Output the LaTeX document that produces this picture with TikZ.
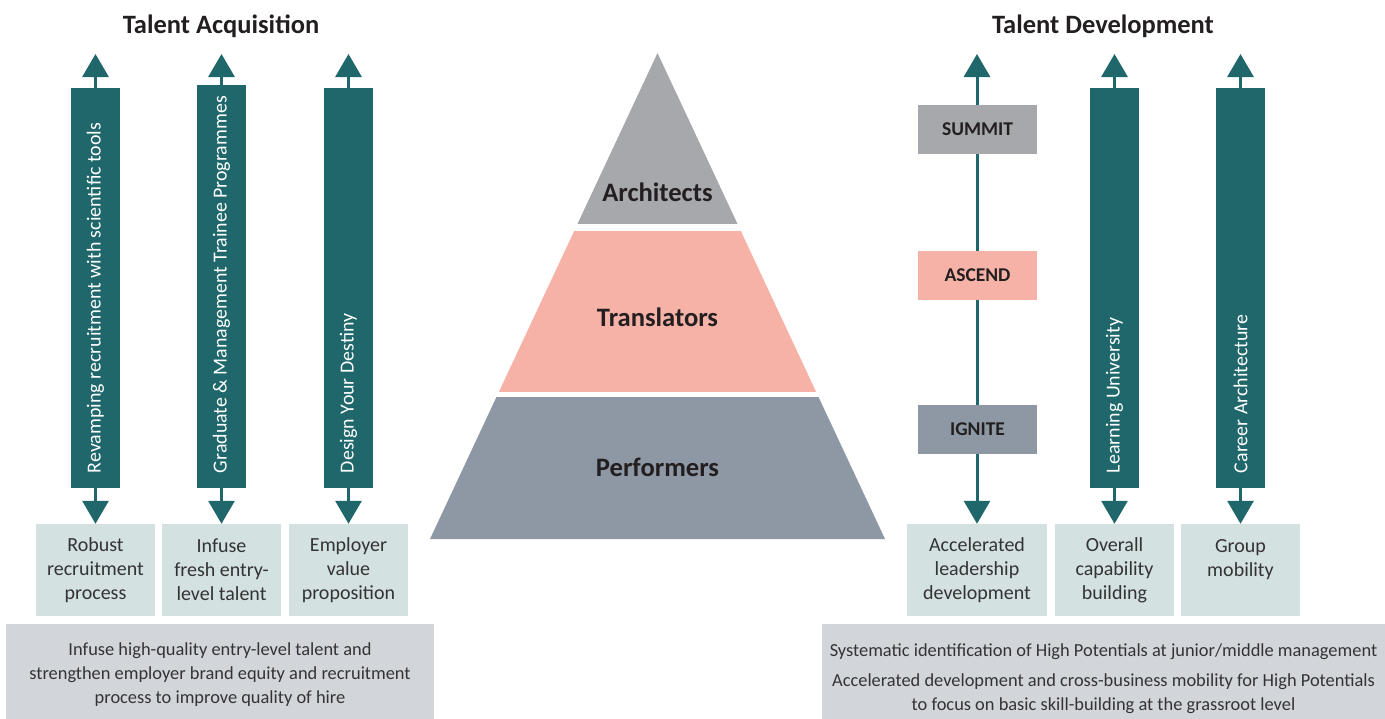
\documentclass[tikz,border=0pt]{standalone}
\usepackage{fontspec}
\setmainfont{Carlito}
\usetikzlibrary{positioning,arrows.meta,calc}
\definecolor{ink}{HTML}{231F20}
\definecolor{body}{HTML}{333335}
\definecolor{teal}{HTML}{1F676B}
\definecolor{pale}{HTML}{D4E1E1}
\definecolor{note}{HTML}{D2D6DA}
\definecolor{stone}{HTML}{A7A8AB}
\definecolor{blush}{HTML}{F7B2A8}
\definecolor{slate}{HTML}{8D98A4}

\tikzset{
  heading/.style={font=\fontsize{26.5}{30}\selectfont\bfseries,text=ink},
  bar/.style={fill=teal,minimum width=49pt,inner sep=0pt},
  bartext/.style={rotate=90,anchor=west,inner sep=0pt,text=white,font=\fontsize{19.9}{22}\selectfont},
  outbox/.style={fill=pale,minimum width=119pt,minimum height=92pt,inner sep=0pt,align=center,text=body,font=\fontsize{20}{24}\selectfont},
  notebox/.style={fill=note,anchor=north,inner sep=0pt,align=center,text=body,font=\fontsize{18.4}{24}\selectfont},
  flow/.style={draw=teal,line width=3pt,-{Triangle[width=26pt,length=23pt]}},
  stepbox/.style={minimum width=119pt,minimum height=49pt,inner sep=0pt,text=ink,font=\fontsize{19.5}{22}\selectfont\bfseries},
  tier/.style={text=ink,font=\fontsize{26.6}{30}\selectfont\bfseries},
}

\begin{document}
\begin{tikzpicture}[x=1pt,y=-1pt]
  \useasboundingbox (0,0) rectangle (1385,718);

  % headings
  \node[heading] (headL) at (221,26) {Talent Acquisition};
  \node[heading] (headR) at (1103,26) {Talent Development};

  % acquisition columns
  \node[bar,minimum height=400pt] (bar1) at (95.5,288) {};
  \node[bar,minimum height=403pt] (bar2) at (221.5,286.5) {};
  \node[bar,minimum height=400pt] (bar3) at (348.5,288) {};
  \node[bartext] (lab1) at ($(bar1.south)+(0,-15)$) {Revamping recruitment with scientific tools};
  \node[bartext] (lab2) at ($(bar2.south)+(0,-15)$) {Graduate \& Management Trainee Programmes};
  \node[bartext] (lab3) at ($(bar3.south)+(0,-15)$) {Design Your Destiny};

  \node[outbox] (out1) at (95.5,570) {Robust\\recruitment\\process};
  \node[outbox] (out2) at (221.5,570) {Infuse\\fresh entry-\\level talent};
  \node[outbox] (out3) at (348.5,570) {Employer\\value\\proposition};

  \coordinate (top1) at (95.5,54);
  \coordinate (top2) at (221.5,54);
  \coordinate (top3) at (348.5,54);
  \foreach \i in {1,2,3} {
    \draw[flow] (bar\i.north) -- (top\i);
    \draw[flow] (bar\i.south) -- (out\i.north);
  }

  % runs past the lower edge of the page
  \node[notebox,minimum width=428pt,minimum height=100pt] (noteL) at (220,624)
    {Infuse high-quality entry-level talent and\\strengthen employer brand equity and recruitment\\process to improve quality of hire};

  % pyramid
  \coordinate (apex) at (657.5,53);
  \coordinate (baseL) at (430,539);
  \coordinate (baseR) at (885,539);
  \begin{scope}
    \clip (apex) -- (baseL) -- (baseR) -- cycle;
    \fill[stone] (420,40) rectangle (900,224);
    \fill[blush] (420,231) rectangle (900,392);
    \fill[slate] (420,397) rectangle (900,540);
  \end{scope}
  \node[tier] (arch) at (657.5,192) {Architects};
  \node[tier] (trans) at (657.5,317) {Translators};
  \node[tier] (perf) at (657.5,467) {Performers};

  % development columns
  \node[outbox,minimum width=140pt] (out4) at (977,570) {Accelerated\\leadership\\development};
  \node[outbox] (out5) at (1114.5,570) {Overall\\capability\\building};
  \node[outbox] (out6) at (1240.5,570) {Group\\mobility\\~};

  \coordinate (top4) at (977,54);
  \draw[flow,{Triangle[width=26pt,length=23pt]}-{Triangle[width=26pt,length=23pt]}] (top4) -- (out4.north);
  \node[stepbox,fill=stone] (summit) at (977.5,129.5) {SUMMIT};
  \node[stepbox,fill=blush] (ascend) at (977.5,275.5) {ASCEND};
  \node[stepbox,fill=slate] (ignite) at (977.5,429.5) {IGNITE};

  \node[bar,minimum height=400pt] (bar4) at (1114.5,288) {};
  \node[bar,minimum height=400pt] (bar5) at (1240.5,288) {};
  \node[bartext] (lab4) at ($(bar4.south)+(0,-15)$) {Learning University};
  \node[bartext] (lab5) at ($(bar5.south)+(0,-15)$) {Career Architecture};
  \coordinate (top5) at (1114.5,54);
  \coordinate (top6) at (1240.5,54);
  \draw[flow] (bar4.north) -- (top5);
  \draw[flow] (bar4.south) -- (out5.north);
  \draw[flow] (bar5.north) -- (top6);
  \draw[flow] (bar5.south) -- (out6.north);

  \node[notebox,minimum width=563pt,minimum height=108pt] (noteR) at (1103.5,624)
    {Systematic identification of High Potentials at junior/middle management\\[6pt]Accelerated development and cross-business mobility for High Potentials\\to focus on basic skill-building at the grassroot level};
\end{tikzpicture}
\end{document}
